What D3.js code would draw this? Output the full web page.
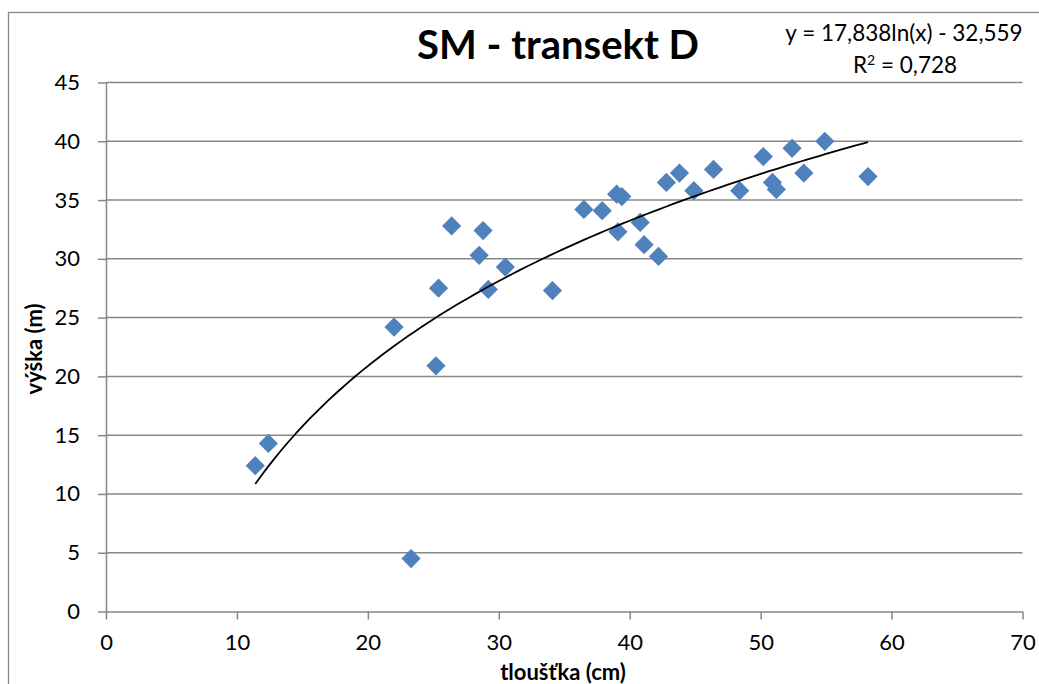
<!DOCTYPE html>
<html>
<head>
<meta charset="utf-8">
<script src="https://cdn.jsdelivr.net/npm/d3@7"></script>
<style>
  html, body { margin: 0; padding: 0; background: #fff; }
  svg { display: block; }
  text { font-family: Lato, "Open Sans", sans-serif; fill: #000; }
</style>
</head>
<body>
<svg id="chart" width="1039" height="684"></svg>
<script>
// Tree measurements: diameter (cm) and height (m)
const diameter = [11.4, 12.4, 22.0, 23.3, 25.2, 25.4, 26.4, 28.5, 28.8, 29.2, 30.5, 34.1,
                  36.5, 37.9, 39.0, 39.4, 39.1, 40.8, 41.1, 42.2, 42.8, 43.8, 44.9, 46.4,
                  48.4, 50.2, 50.9, 51.2, 52.4, 53.3, 54.9, 58.2];
const height   = [12.4, 14.3, 24.2, 4.5, 20.9, 27.5, 32.8, 30.3, 32.4, 27.4, 29.3, 27.3,
                  34.2, 34.1, 35.5, 35.3, 32.3, 33.1, 31.2, 30.2, 36.5, 37.3, 35.8, 37.6,
                  35.8, 38.7, 36.5, 35.9, 39.4, 37.3, 40.0, 37.0];

// Logarithmic trend line coefficients: y = a*ln(x) + b
const trendA = 17.838;
const trendB = -32.559;
const rSquared = "0,728";

const xTicks = [0, 10, 20, 30, 40, 50, 60, 70];
const yTicks = [0, 5, 10, 15, 20, 25, 30, 35, 40, 45];

const titleText = "SM - transekt D";
const xTitle = "tloušťka (cm)";
const yTitle = "výška (m)";
const eqText = "y = 17,838ln(x) - 32,559";

const svg = d3.select("#chart");
const grey = "#878787";

// chart area border
svg.append("rect")
  .attr("x", 8.5).attr("y", 12.5)
  .attr("width", 1100).attr("height", 800)
  .attr("fill", "none").attr("stroke", grey).attr("stroke-width", 1.3);

const x = d3.scaleLinear().domain([0, 70]).range([106, 1022.5]);
const y = d3.scaleLinear().domain([0, 45]).range([611.5, 82.5]);

// horizontal gridlines
svg.append("g").selectAll("line")
  .data(yTicks.filter(v => v > 0))
  .join("line")
  .attr("x1", x(0)).attr("x2", x(70))
  .attr("y1", d => y(d)).attr("y2", d => y(d))
  .attr("stroke", grey).attr("stroke-width", 1.5);

// y axis
const yAxis = svg.append("g")
  .attr("transform", `translate(${x(0)},0)`)
  .call(d3.axisLeft(y).tickValues(yTicks).tickSize(8).tickPadding(18).tickSizeOuter(0));
yAxis.select(".domain").attr("stroke", grey).attr("stroke-width", 1.5);
yAxis.selectAll(".tick line").attr("stroke", grey).attr("stroke-width", 1.5);
yAxis.selectAll(".tick text").style("font-size", "22px").attr("fill", "#000");

// x axis
const xAxis = svg.append("g")
  .attr("transform", `translate(0,${y(0)})`)
  .call(d3.axisBottom(x).tickValues(xTicks).tickSize(8).tickPadding(15).tickSizeOuter(0));
xAxis.select(".domain").attr("stroke", grey).attr("stroke-width", 1.5);
xAxis.selectAll(".tick line").attr("stroke", grey).attr("stroke-width", 1.5);
xAxis.selectAll(".tick text").style("font-size", "22px").attr("fill", "#000");

// markers
const pts = diameter.map((d, i) => ({ x: d, y: height[i] }));
const diamond = d3.symbol(d3.symbolSquare, 185);
svg.append("g").selectAll("path")
  .data(pts)
  .join("path")
  .attr("d", diamond)
  .attr("transform", d => `translate(${x(d.x)},${y(d.y)}) rotate(45)`)
  .attr("fill", "#4f81bd");

// logarithmic trend line across the data range
const xMin = d3.min(diameter), xMax = d3.max(diameter);
const trendPts = d3.range(0, 101).map(i => {
  const xv = xMin + (xMax - xMin) * i / 100;
  return [xv, trendA * Math.log(xv) + trendB];
});
svg.append("path")
  .datum(trendPts)
  .attr("d", d3.line().x(d => x(d[0])).y(d => y(d[1])))
  .attr("fill", "none").attr("stroke", "#000").attr("stroke-width", 1.8);

// title
svg.append("text")
  .attr("x", 558).attr("y", 59)
  .attr("text-anchor", "middle")
  .style("font-size", "40px").style("font-weight", "bold")
  .text(titleText);

// trend equation
svg.append("text")
  .attr("x", 904).attr("y", 41)
  .attr("text-anchor", "middle")
  .style("font-size", "22.5px")
  .text(eqText);
const r2 = svg.append("text")
  .attr("x", 905).attr("y", 73)
  .attr("text-anchor", "middle")
  .style("font-size", "22.5px");
r2.append("tspan").text("R");
r2.append("tspan").text("2").attr("dy", -8).style("font-size", "14px");
r2.append("tspan").text(" = " + rSquared).attr("dy", 8);

// axis titles
svg.append("text")
  .attr("x", 563).attr("y", 680)
  .attr("text-anchor", "middle")
  .style("font-size", "22px").style("font-weight", "bold")
  .text(xTitle);
svg.append("text")
  .attr("transform", "translate(42,349) rotate(-90)")
  .attr("text-anchor", "middle")
  .style("font-size", "22px").style("font-weight", "bold")
  .text(yTitle);
</script>
</body>
</html>
